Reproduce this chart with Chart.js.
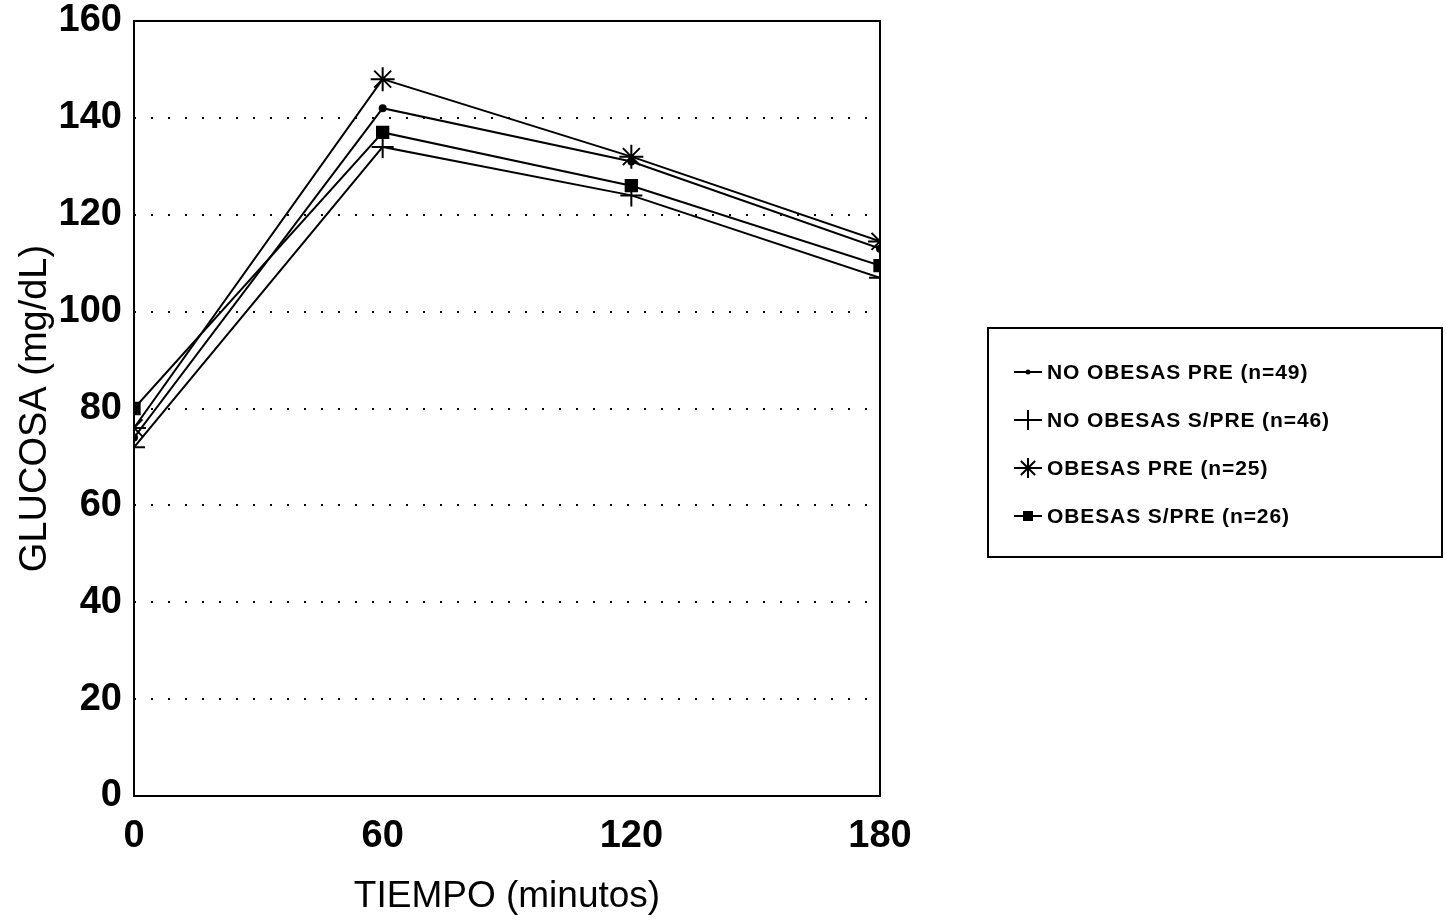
<!DOCTYPE html>
<html>
<head>
<meta charset="utf-8">
<script src="https://cdn.jsdelivr.net/npm/chart.js@4/dist/chart.umd.min.js"></script>
<style>
  html, body { margin: 0; padding: 0; background: #fff; }
  #wrap { position: relative; width: 1446px; height: 924px; }
</style>
</head>
<body>
<div id="wrap"><canvas id="c" width="1446" height="924"></canvas></div>
<script>
// ---- data ----
const times = [0, 60, 120, 180];
const seriesNames = [
  'NO OBESAS PRE (n=49)',
  'NO OBESAS S/PRE (n=46)',
  'OBESAS PRE (n=25)',
  'OBESAS S/PRE (n=26)'
];
const noObesasPre  = [74, 142, 131, 113];
const noObesasSPre = [72, 134, 124, 107];
const obesasPre    = [76, 148, 132, 114.5];
const obesasSPre   = [80, 137, 126, 109.5];
const xTicks = [0, 60, 120, 180];
const yTicks = [0, 20, 40, 60, 80, 100, 120, 140, 160];

const toPts = arr => times.map((t, i) => ({ x: t, y: arr[i] }));

const styles = [
  { pointStyle: 'circle', pointRadius: 3,   fill: true },
  { pointStyle: 'cross',  pointRadius: 11,  fill: false },
  { pointStyle: 'star',   pointRadius: 12,  fill: false },
  { pointStyle: 'rect',   pointRadius: 8,   fill: true }
];
const values = [noObesasPre, noObesasSPre, obesasPre, obesasSPre];

const datasets = values.map((v, i) => ({
  label: seriesNames[i],
  data: toPts(v),
  borderColor: '#000',
  backgroundColor: '#000',
  borderWidth: 2,
  pointStyle: styles[i].pointStyle,
  pointRadius: styles[i].pointRadius,
  pointBorderWidth: 2,
  pointBackgroundColor: styles[i].fill ? '#000' : 'rgba(0,0,0,0)',
  pointBorderColor: '#000',
  tension: 0,
  fill: false
}));

// frame + legend plugin
const framePlugin = {
  id: 'frame',
  afterDatasetsDraw(chart) {
    const { ctx, chartArea: a } = chart;
    ctx.save();
    ctx.strokeStyle = '#000';
    ctx.lineWidth = 2;
    ctx.setLineDash([]);
    ctx.strokeRect(a.left, a.top, a.right - a.left, a.bottom - a.top);
    ctx.restore();
  },
  afterDraw(chart) {
    const ctx = chart.ctx;
    ctx.save();
    ctx.strokeStyle = '#000';
    ctx.lineWidth = 2;
    ctx.strokeRect(988, 328, 454, 229);
    const rows = [372, 420, 468, 516];
    ctx.font = 'bold 21px "Liberation Sans", Arial, sans-serif';
    ctx.fillStyle = '#000';
    ctx.textBaseline = 'middle';
    ctx.textAlign = 'left';
    try { ctx.letterSpacing = '0.9px'; } catch (e) {}
    rows.forEach((y, i) => {
      const mx = 1028;
      ctx.lineWidth = 2;
      ctx.beginPath();
      ctx.moveTo(1014, y); ctx.lineTo(1042, y); ctx.stroke();
      const st = styles[i].pointStyle;
      ctx.beginPath();
      if (st === 'circle') {
        ctx.arc(mx, y, 2.5, 0, Math.PI * 2); ctx.fill();
      } else if (st === 'cross') {
        ctx.moveTo(mx, y - 10); ctx.lineTo(mx, y + 10); ctx.stroke();
      } else if (st === 'star') {
        for (let k = 0; k < 4; k++) {
          const ang = k * Math.PI / 4;
          ctx.moveTo(mx - 10 * Math.cos(ang), y - 10 * Math.sin(ang));
          ctx.lineTo(mx + 10 * Math.cos(ang), y + 10 * Math.sin(ang));
        }
        ctx.stroke();
      } else if (st === 'rect') {
        ctx.fillRect(mx - 5, y - 5, 10, 10);
      }
      ctx.fillText(seriesNames[i], 1047, y + 1);
    });
    ctx.restore();
  }
};

new Chart(document.getElementById('c'), {
  type: 'line',
  data: { datasets },
  options: {
    responsive: false,
    animation: false,
    layout: { padding: { left: 0, top: 21, right: 566, bottom: 0 } },
    plugins: { legend: { display: false }, tooltip: { enabled: false } },
    scales: {
      x: {
        type: 'linear',
        min: 0, max: 180,
        afterBuildTicks(scale) { scale.ticks = xTicks.map(v => ({ value: v })); },
        afterFit(scale) { scale.height = 128; scale.paddingLeft = 0; scale.paddingRight = 0; },
        grid: { display: false, drawTicks: false },
        border: { display: false },
        ticks: {
          color: '#000',
          padding: 18,
          maxRotation: 0,
          font: { family: '"Liberation Sans", Arial, sans-serif', size: 38, weight: 'bold' }
        },
        title: {
          display: true,
          text: 'TIEMPO (minutos)',
          color: '#000',
          padding: { top: 0, bottom: 5 },
          font: { family: '"Liberation Sans", Arial, sans-serif', size: 37 }
        }
      },
      y: {
        min: 0, max: 160,
        afterBuildTicks(scale) { scale.ticks = yTicks.map(v => ({ value: v })); },
        afterFit(scale) { scale.width = 134; scale.paddingTop = 0; scale.paddingBottom = 0; },
        grid: {
          color: '#000',
          lineWidth: 2,
          drawTicks: false
        },
        border: { display: false, dash: [2, 15] },
        ticks: {
          color: '#000',
          padding: 12,
          font: { family: '"Liberation Sans", Arial, sans-serif', size: 38, weight: 'bold' }
        },
        title: {
          display: true,
          text: 'GLUCOSA (mg/dL)',
          color: '#000',
          padding: { top: 13, bottom: 0 },
          font: { family: '"Liberation Sans", Arial, sans-serif', size: 38 }
        }
      }
    }
  },
  plugins: [framePlugin]
});
</script>
</body>
</html>
